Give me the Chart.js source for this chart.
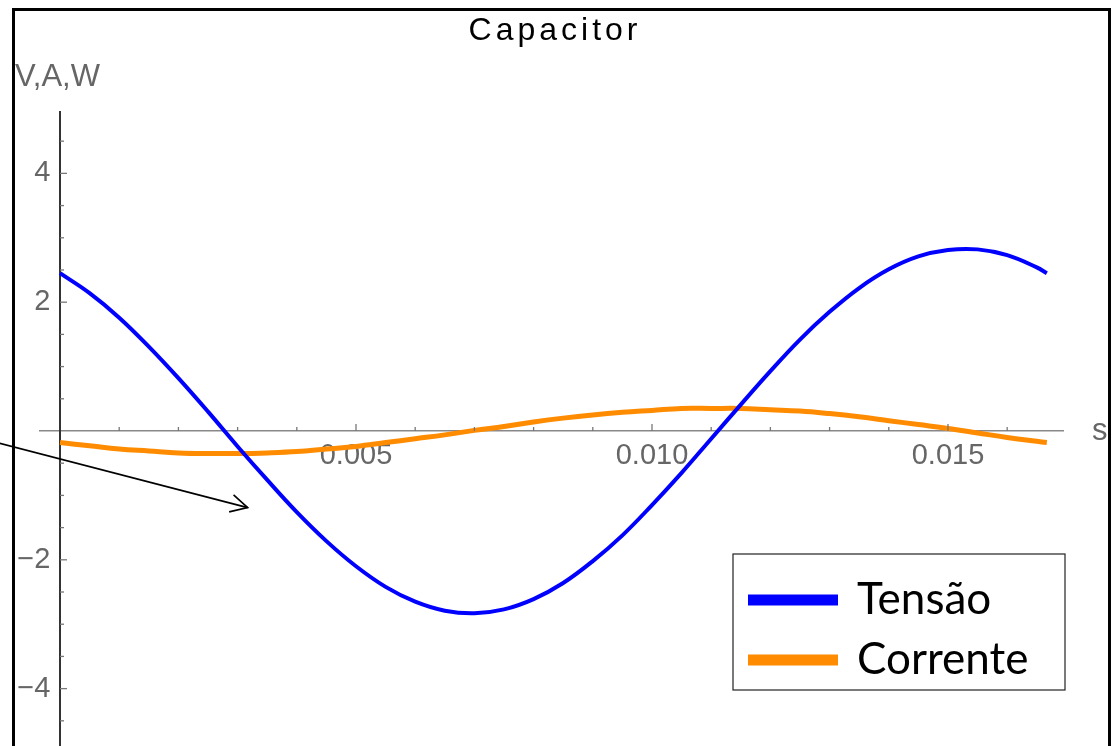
<!DOCTYPE html>
<html>
<head>
<meta charset="utf-8">
<script src="https://cdn.jsdelivr.net/npm/chart.js@4/dist/chart.umd.min.js"></script>
<style>
  html, body { margin: 0; padding: 0; background: #fff; }
  #wrap { width: 1113px; height: 746px; position: relative; }
</style>
</head>
<body>
<div id="wrap"><canvas id="canvas" width="1113" height="746"></canvas></div>
<script>
// time (s), read every 0.5 ms off the plot
var times = [0, 0.0005, 0.001, 0.0015, 0.002, 0.0025, 0.003, 0.0035, 0.004, 0.0045,
  0.005, 0.0055, 0.006, 0.0065, 0.007, 0.0075, 0.008, 0.0085, 0.009, 0.0095,
  0.010, 0.0105, 0.011, 0.0115, 0.012, 0.0125, 0.013, 0.0135, 0.014, 0.0145,
  0.015, 0.0155, 0.016, 0.0165, 0.01667];
var tensao = [2.45, 2.14, 1.76, 1.31, 0.82, 0.30, -0.24, -0.76, -1.26, -1.71,
  -2.10, -2.42, -2.65, -2.79, -2.83, -2.77, -2.61, -2.36, -2.02, -1.62,
  -1.15, -0.65, -0.12, 0.41, 0.93, 1.42, 1.85, 2.22, 2.51, 2.71,
  2.81, 2.82, 2.73, 2.54, 2.45];
var corrente = [-0.18, -0.23, -0.28, -0.31, -0.34, -0.35, -0.35, -0.34, -0.32, -0.28,
  -0.24, -0.18, -0.12, -0.06, 0.01, 0.07, 0.14, 0.20, 0.25, 0.29,
  0.32, 0.35, 0.35, 0.35, 0.33, 0.31, 0.27, 0.22, 0.16, 0.10,
  0.04, -0.03, -0.10, -0.16, -0.18];
var seriesNames = ['Tensão', 'Corrente'];
var seriesColors = ['#0000ff', '#ff8c00'];
var xLabelTicks = [0.005, 0.010, 0.015];
var yLabelTicks = [-4, -2, 2, 4];
// the hand-drawn arrow, in data units (start, tip)
var arrowFrom = [-0.00102, -0.19];
var arrowTo = [0.00317, -1.19];

function pts(ys) {
  return times.map(function(t, i) { return { x: t, y: ys[i] }; });
}

function isLabelTick(list, v) {
  return list.some(function(l) { return Math.abs(l - v) < 1e-7; });
}

var tickFont = { family: 'Liberation Sans, Arial, sans-serif', size: 29 };

var axesDeco = {
  id: 'axesDeco',
  afterDraw: function(chart) {
    var ctx = chart.ctx;
    var xs = chart.scales.x, ys = chart.scales.y;
    var x0 = xs.getPixelForValue(0), y0 = ys.getPixelForValue(0);
    ctx.save();
    // tick marks pointing inwards
    ctx.strokeStyle = '#777';
    ctx.lineWidth = 1.3;
    xs.ticks.forEach(function(t) {
      if (Math.abs(t.value) < 1e-9) return;
      var px = xs.getPixelForValue(t.value);
      var len = isLabelTick(xLabelTicks, t.value) ? 7 : 4;
      ctx.beginPath(); ctx.moveTo(px, y0); ctx.lineTo(px, y0 - len); ctx.stroke();
    });
    ys.ticks.forEach(function(t) {
      if (Math.abs(t.value) < 1e-9) return;
      var py = ys.getPixelForValue(t.value);
      var len = isLabelTick(yLabelTicks, t.value) ? 7 : 4;
      ctx.beginPath(); ctx.moveTo(x0, py); ctx.lineTo(x0 + len, py); ctx.stroke();
    });
    // title
    ctx.fillStyle = '#000';
    ctx.font = '32px Liberation Sans, Arial, sans-serif';
    ctx.textBaseline = 'alphabetic';
    ctx.textAlign = 'center';
    ctx.letterSpacing = '4px';
    ctx.fillText('Capacitor', 555, 40);
    ctx.letterSpacing = '0px';
    // axis names
    ctx.fillStyle = '#666';
    ctx.font = '31px Liberation Sans, Arial, sans-serif';
    ctx.textAlign = 'left';
    ctx.fillText('V,A,W', 15, 86);
    ctx.fillText('s', 1092, 440);
    // arrow
    var ax = xs.getPixelForValue(arrowFrom[0]), ay = ys.getPixelForValue(arrowFrom[1]);
    var bx = xs.getPixelForValue(arrowTo[0]), by = ys.getPixelForValue(arrowTo[1]);
    ctx.strokeStyle = '#000';
    ctx.lineWidth = 1.6;
    ctx.beginPath(); ctx.moveTo(ax, ay); ctx.lineTo(bx, by); ctx.stroke();
    var ang = Math.atan2(by - ay, bx - ax);
    ctx.beginPath();
    ctx.moveTo(bx - 19 * Math.cos(ang - 0.48), by - 19 * Math.sin(ang - 0.48));
    ctx.lineTo(bx, by);
    ctx.lineTo(bx - 19 * Math.cos(ang + 0.48), by - 19 * Math.sin(ang + 0.48));
    ctx.stroke();
    // legend box
    var lx = 733, ly = 554, lw = 332, lh = 136;
    ctx.fillStyle = '#fff';
    ctx.fillRect(lx, ly, lw, lh);
    ctx.strokeStyle = '#222';
    ctx.lineWidth = 1.2;
    ctx.strokeRect(lx, ly, lw, lh);
    chart.data.datasets.forEach(function(ds, i) {
      var cy = 600 + i * 60;
      ctx.fillStyle = ds.borderColor;
      ctx.fillRect(748, cy - 5.5, 90, 11);
      ctx.fillStyle = '#000';
      ctx.font = '44px Lato, Open Sans, sans-serif';
      ctx.textBaseline = 'middle';
      ctx.fillText(ds.label, 857, cy);
    });
    // outer frame
    ctx.strokeStyle = '#000';
    ctx.lineWidth = 3;
    ctx.beginPath();
    ctx.moveTo(13.5, 760); ctx.lineTo(13.5, 9.5); ctx.lineTo(1109.5, 9.5); ctx.lineTo(1109.5, 760);
    ctx.stroke();
    ctx.restore();
  }
};

var ctx = document.getElementById('canvas').getContext('2d');
var chart = new Chart(ctx, {
  type: 'line',
  data: {
    datasets: [
      { label: seriesNames[0], data: pts(tensao), borderColor: seriesColors[0], borderWidth: 4,
        pointRadius: 0, tension: 0.4, fill: false },
      { label: seriesNames[1], data: pts(corrente), borderColor: seriesColors[1], borderWidth: 5,
        pointRadius: 0, tension: 0.4, fill: false }
    ]
  },
  options: {
    responsive: false,
    animation: false,
    layout: { padding: { left: 40, right: 50, top: 112, bottom: 0 } },
    plugins: {
      legend: { display: false },
      tooltip: { enabled: false },
      title: { display: false }
    },
    scales: {
      x: {
        type: 'linear',
        position: { y: 0 },
        min: -0.000338,
        max: 0.016943,
        afterFit: function(scale) {
          scale.height = 0;
          scale.paddingLeft = 0; scale.paddingRight = 0;
          scale.paddingTop = 0; scale.paddingBottom = 0;
        },
        grid: { display: true, drawOnChartArea: false, drawTicks: false },
        border: { display: true, color: '#888', width: 1.5 },
        ticks: {
          stepSize: 0.001,
          includeBounds: false,
          autoSkip: false,
          maxRotation: 0,
          padding: 8,
          color: '#666',
          font: tickFont,
          callback: function(v) { return isLabelTick(xLabelTicks, v) ? v.toFixed(3) : ''; }
        }
      },
      y: {
        type: 'linear',
        position: { x: 0 },
        min: -4.891,
        max: 4.953,
        afterFit: function(scale) {
          scale.paddingLeft = 0; scale.paddingRight = 0;
          scale.paddingTop = 0; scale.paddingBottom = 0;
        },
        grid: { display: true, drawOnChartArea: false, drawTicks: false },
        border: { display: true, color: '#333', width: 2 },
        ticks: {
          stepSize: 0.5,
          includeBounds: false,
          autoSkip: false,
          color: '#666',
          font: tickFont,
          callback: function(v) {
            if (!isLabelTick(yLabelTicks, v)) return '';
            return (v < 0 ? '\u2212' + Math.abs(v) : String(v)) + '\u2004';
          }
        }
      }
    }
  },
  plugins: [axesDeco]
});
</script>
</body>
</html>
